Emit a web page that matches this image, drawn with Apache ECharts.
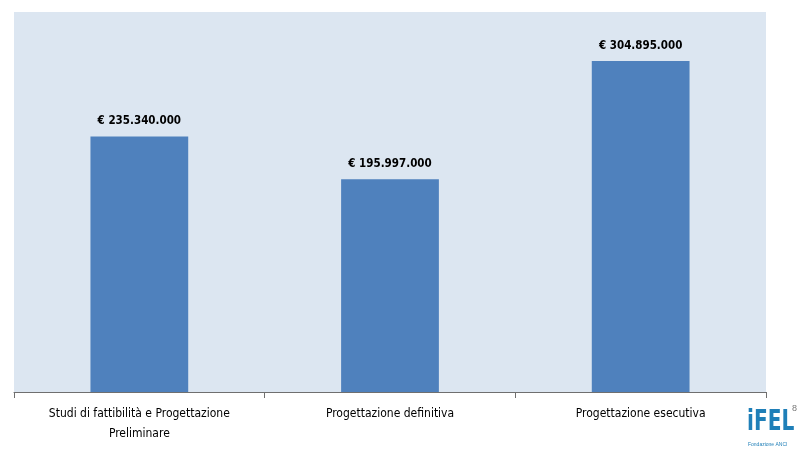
<!DOCTYPE html>
<html><head><meta charset="utf-8">
<script src="https://cdn.jsdelivr.net/npm/echarts@6/dist/echarts.min.js"></script>
<style>html,body{margin:0;padding:0;background:#fff}#c{width:800px;height:470px}</style>
</head><body><div id="c"></div>
<script>
var categories = ["Studi di fattibilità e Progettazione\nPreliminare", "Progettazione definitiva", "Progettazione esecutiva"];
var values = [235340000, 195997000, 304895000];
var labels = ["€ 235.340.000", "€ 195.997.000", "€ 304.895.000"];
var font = "'Liberation Sans Narrow','DejaVu Sans Condensed',sans-serif";
var chart = echarts.init(document.getElementById('c'));
chart.setOption({
  animation: false,
  grid: {left: 14, right: 34, top: 12, bottom: 78, show: true, backgroundColor: '#dce6f1', borderWidth: 0},
  xAxis: {
    type: 'category', data: categories,
    axisLine: {lineStyle: {color: '#6f6f6f', width: 1}},
    axisTick: {show: true, alignWithLabel: false, length: 6, lineStyle: {color: '#6f6f6f'}},
    axisLabel: {color: '#000', fontFamily: font, fontSize: 12, lineHeight: 20, margin: 12, interval: 0}
  },
  yAxis: {type: 'value', min: 0, max: 350000000, show: false, splitLine: {show: false}},
  series: [{
    type: 'bar', data: values, barWidth: '39%',
    itemStyle: {color: '#4f81bd'},
    label: {show: true, position: 'top', distance: 9, color: '#000', fontWeight: 'bold', fontFamily: font, fontSize: 11.5,
      formatter: function(p){ return labels[p.dataIndex]; }}
  }],
  graphic: [
    {type: 'text', left: 747, top: 409, scaleX: 0.8, style: {text: 'iFEL', fill: '#1f7fb8', font: 'bold 28px ' + font}},
    {type: 'text', left: 748, top: 442, style: {text: 'Fondazione ANCI', fill: '#1f7fb8', font: '5px sans-serif'}},
    {type: 'text', left: 792, top: 404, style: {text: '8', fill: '#777', font: '9px sans-serif'}}
  ]
});
</script></body></html>
